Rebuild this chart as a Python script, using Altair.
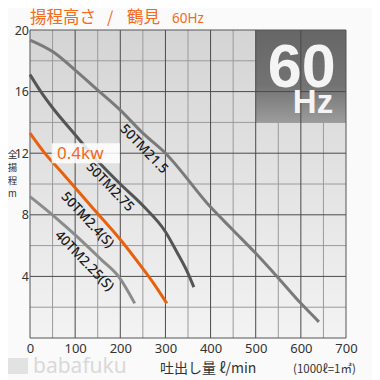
import altair as alt
import pandas as pd

# ---- data ----
x_21_5 = [0, 50, 100, 150, 200, 250, 300, 400, 450, 500, 550, 600, 640]
h_21_5 = [19.35, 18.6, 17.4, 16.1, 14.8, 13.3, 12.0, 8.5, 7.0, 5.5, 3.9, 2.25, 1.05]
x_2_75 = [0, 25, 50, 100, 150, 200, 250, 300, 325, 350, 363]
h_2_75 = [17.1, 15.95, 14.95, 13.2, 11.5, 10.0, 8.6, 6.9, 5.6, 4.2, 3.3]
x_2_4 = [0, 30, 75, 137, 200, 245, 275, 303]
h_2_4 = [13.3, 12.1, 10.6, 8.5, 6.4, 4.7, 3.5, 2.25]
x_2_25 = [0, 33, 63, 100, 159, 196, 232]
h_2_25 = [9.18, 8.4, 7.66, 6.7, 5.06, 4.0, 2.25]

series_names = ["50TM21.5", "50TM2.75", "50TM2.4(S)", "40TM2.25(S)"]
series_colors = ["#7a7a7a", "#555555", "#e8610f", "#8c8c8c"]
label_x = [252, 177, 127, 120]
label_y = [12.27, 9.8, 7.66, 5.0]
label_angle = [46, 46, 47, 46]

x_ticks = [0, 100, 200, 300, 400, 500, 600, 700]
y_ticks = [4, 8, 12, 16, 20]
x_minor = [50, 150, 250, 350, 450, 550, 650]
y_minor = [2, 6, 10, 14, 18]
x_major = [100, 200, 300, 400, 500, 600]
y_major = [4, 8, 12, 16]

power_label = "0.4kw"
title_parts = ["揚程高さ", "/", "鶴見"]
title_hz = "60Hz"
x_title = "吐出し量 ℓ/min"
x_unit = "(1000ℓ=1㎥)"
y_title_chars = ["全", "揚", "程", "m"]

# ---- tables ----
rows = []
for name, xs_, hs_ in zip(series_names, [x_21_5, x_2_75, x_2_4, x_2_25],
                          [h_21_5, h_2_75, h_2_4, h_2_25]):
    for xv, hv in zip(xs_, hs_):
        rows.append({"model": name, "q": xv, "h": hv})
curves = pd.DataFrame(rows)
labels = pd.DataFrame({"model": series_names, "q": label_x, "h": label_y,
                       "ang": label_angle})

W, H = 316, 308
xs = alt.Scale(domain=[0, 700], nice=False, zero=False)
ys = alt.Scale(domain=[0, 20], nice=False, zero=False)
color_scale = alt.Scale(domain=series_names, range=series_colors)

frame_df = pd.DataFrame({"x0": [0], "x1": [700], "y0": [0], "y1": [20]})

bg = alt.Chart(frame_df).mark_rect(
    fill=alt.Gradient(gradient="linear",
                      stops=[alt.GradientStop(color="#d4d4d4", offset=0),
                             alt.GradientStop(color="#f3f3f3", offset=1)],
                      x1=0, x2=0, y1=0, y2=1)
).encode(
    x=alt.X("x0:Q", scale=xs,
            axis=alt.Axis(values=x_ticks, title=None, grid=False, ticks=False,
                          domain=False, labelFontSize=13, labelColor="#333",
                          labelPadding=4, labelFont="Noto Sans", labelFlush=False)),
    x2="x1:Q",
    y=alt.Y("y0:Q", scale=ys,
            axis=alt.Axis(values=y_ticks, title=None, grid=False,
                          ticks=False, domain=False, labelFontSize=12.5, labelColor="#333",
                          labelPadding=1.5, labelFont="Noto Sans")),
    y2="y1:Q",
)

vminor = alt.Chart(pd.DataFrame({"q": x_minor})).mark_rule(color="#9a9a9a", strokeWidth=1).encode(
    x=alt.X("q:Q", scale=xs), y=alt.value(0), y2=alt.value(H))
hminor = alt.Chart(pd.DataFrame({"h": y_minor})).mark_rule(color="#9a9a9a", strokeWidth=1).encode(
    y=alt.Y("h:Q", scale=ys), x=alt.value(0), x2=alt.value(W))

hz_box = alt.Chart(pd.DataFrame({"x0": [500], "x1": [700], "y0": [14], "y1": [20]})).mark_rect(
    fill=alt.Gradient(gradient="linear",
                      stops=[alt.GradientStop(color="#666666", offset=0),
                             alt.GradientStop(color="#737373", offset=0.6),
                             alt.GradientStop(color="#9c9c9c", offset=1)],
                      x1=0, x2=0, y1=0, y2=1)
).encode(x=alt.X("x0:Q", scale=xs), x2="x1:Q", y=alt.Y("y0:Q", scale=ys), y2="y1:Q")

vmajor = alt.Chart(pd.DataFrame({"q": x_major})).mark_rule(color="#4a4a4a", strokeWidth=1).encode(
    x=alt.X("q:Q", scale=xs), y=alt.value(0), y2=alt.value(H))
hmajor = alt.Chart(pd.DataFrame({"h": y_major})).mark_rule(color="#4a4a4a", strokeWidth=1).encode(
    y=alt.Y("h:Q", scale=ys), x=alt.value(0), x2=alt.value(W))

frame = alt.Chart(frame_df).mark_rect(fill=None, stroke="#555555", strokeWidth=1).encode(
    x=alt.X("x0:Q", scale=xs), x2="x1:Q", y=alt.Y("y0:Q", scale=ys), y2="y1:Q")

lines = alt.Chart(curves).mark_line(strokeWidth=3, interpolate="monotone").encode(
    x=alt.X("q:Q", scale=xs),
    y=alt.Y("h:Q", scale=ys),
    color=alt.Color("model:N", scale=color_scale, legend=None),
    detail="model:N",
)

label_marks = alt.Chart(labels).mark_text(
    font="Noto Sans", fontSize=13.5, fontWeight=500, color="#1a1a1a",
    align="center", baseline="middle"
).encode(
    x=alt.X("q:Q", scale=xs), y=alt.Y("h:Q", scale=ys), text="model:N",
    angle=alt.Angle("ang:Q", scale=None),
)

pw_box = alt.Chart(pd.DataFrame({"x0": [48], "x1": [199], "y0": [11.34], "y1": [12.64]})).mark_rect(
    fill="white", opacity=0.85).encode(
    x=alt.X("x0:Q", scale=xs), x2="x1:Q", y=alt.Y("y0:Q", scale=ys), y2="y1:Q")
pw_text = alt.Chart(pd.DataFrame({"q": [60], "h": [11.97], "t": [power_label]})).mark_text(
    font="Noto Sans", fontSize=17, color="#f26a1b", align="left", baseline="middle"
).encode(x=alt.X("q:Q", scale=xs), y=alt.Y("h:Q", scale=ys), text="t:N")

big60 = alt.Chart(pd.DataFrame({"q": [602], "h": [16.3], "t": ["60"]})).mark_text(
    font="Liberation Sans", fontSize=61, fontWeight="bold", color="#f4f4f4",
    align="center", baseline="alphabetic"
).encode(x=alt.X("q:Q", scale=xs), y=alt.Y("h:Q", scale=ys), text="t:N")
hz = alt.Chart(pd.DataFrame({"q": [627], "h": [14.63], "t": ["Hz"]})).mark_text(
    font="Liberation Sans", fontSize=33, fontWeight="bold", color="#f4f4f4",
    align="center", baseline="alphabetic"
).encode(x=alt.X("q:Q", scale=xs), y=alt.Y("h:Q", scale=ys), text="t:N")

orange = "#f26a1b"


def note(text, px, py, size, color, font="Noto Sans CJK JP", align="left",
         baseline="alphabetic"):
    return alt.Chart(pd.DataFrame({"t": [text]})).mark_text(
        font=font, fontSize=size, color=color, align=align, baseline=baseline
    ).encode(x=alt.value(px), y=alt.value(py), text="t:N")


ta = note(title_parts[0], 0, -7, 16.5, orange)
tb = note(title_parts[1], 77, -7, 16, orange)
tc = note(title_parts[2], 97, -7, 16.5, orange)
t2 = note(title_hz, 142, -7, 13.5, orange, font="Noto Sans")

xt = note(x_title, 130, H + 35, 14, "#333")
unit = note(x_unit, 263, H + 35, 11.5, "#333")

y_pos = [125, 138, 151, 163.5]
yts = [note(c, -17.5, p, 9.5, "#333", align="center", baseline="middle")
       for c, p in zip(y_title_chars, y_pos)]

wm = note("babafuku", 3, H + 35, 21, "#d9d9d9", font="Noto Sans")
logo = alt.Chart(pd.DataFrame({"a": [1]})).mark_rect(color="#e2e2e2").encode(
    x=alt.value(-22), x2=alt.value(-2), y=alt.value(H + 20), y2=alt.value(H + 36))

chart = alt.layer(bg, vminor, hminor, hz_box, vmajor, hmajor, frame, lines, label_marks,
                  pw_box, pw_text, big60, hz, ta, tb, tc, t2, xt, unit, *yts, logo, wm).properties(
    width=W, height=H,
    autosize=alt.AutoSizeParams(type="none"),
    padding={"left": 22, "top": 22, "right": 26, "bottom": 42},
    background="#fafafa",
).configure_view(stroke=None)

chart.save("out.html", embed_options={"renderer": "svg", "actions": False})
